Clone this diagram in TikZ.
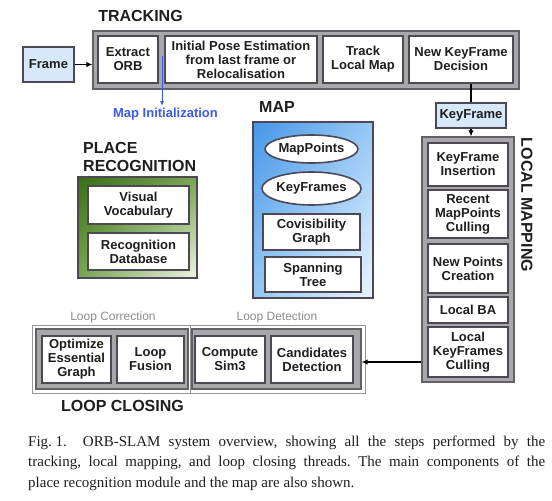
\documentclass[tikz,border=0pt]{standalone}
\usepackage{fontspec}
\setmainfont{Liberation Serif}
\newfontfamily\dsans{Liberation Sans}
\usetikzlibrary{arrows.meta,shapes.geometric,shadings}
\definecolor{bord}{RGB}{78,72,84}
\definecolor{framefill}{RGB}{168,168,170}
\definecolor{framebord}{RGB}{100,96,104}
\definecolor{lblue}{RGB}{214,232,250}
\definecolor{initblue}{RGB}{60,90,235}
\definecolor{thinc}{RGB}{150,150,150}
\definecolor{lblc}{RGB}{140,140,140}
\definecolor{txt}{RGB}{30,30,30}
\definecolor{mapA}{RGB}{70,150,232}
\definecolor{mapB}{RGB}{150,200,245}
\definecolor{mapC}{RGB}{235,245,255}
\definecolor{grA}{RGB}{55,110,20}
\definecolor{grB}{RGB}{120,165,80}
\definecolor{grC}{RGB}{238,244,230}
\tikzset{
 ibox/.style={draw=bord, line width=1.6pt, fill=white, inner sep=0pt, align=center, text=txt,
   font=\dsans\bfseries\fontsize{13}{14}\selectfont},
 bluebox/.style={ibox, fill=lblue},
 ellbox/.style={ibox, ellipse},
 framebox/.style={draw=framebord, line width=1.2pt, fill=framefill, inner sep=0pt},
 thinbox/.style={draw=thinc, line width=0.7pt, inner sep=0pt},
 ttl/.style={font=\dsans\bfseries\fontsize{16}{18}\selectfont, text=txt, inner sep=0pt},
 sublbl/.style={font=\dsans\fontsize{12}{14}\selectfont, text=lblc, inner sep=0pt},
 arr/.style={-{Latex[length=6pt,width=5.5pt]}, line width=1.4pt, black},
 capline/.style={font=\frenchspacing\fontsize{15}{20}\selectfont, inner sep=0pt, anchor=base west, text=txt}
}
\begin{document}
\begin{tikzpicture}[x=1pt,y=-1pt]
\path[fill=white,use as bounding box] (0,0) rectangle (552,501);

% TRACKING
\node[ttl] (ttrk) at (140.5,16) {TRACKING};
\node[framebox, minimum width=426, minimum height=58] (trk) at (306,60) {};
\node[ibox, minimum width=60, minimum height=47] (eorb) at (128,59.5) {Extract\\ORB};
\node[ibox, minimum width=152, minimum height=47] (ipe) at (241,59.5) {Initial Pose Estimation\\from last frame or\\Relocalisation};
\node[ibox, minimum width=80, minimum height=47] (tlm) at (363,59.5) {Track\\Local Map};
\node[ibox, minimum width=104, minimum height=47] (nkd) at (461,59.5) {New KeyFrame\\Decision};
\node[bluebox, minimum width=51, minimum height=35] (frm) at (48.5,64.5) {Frame};
\draw[arr] (frm.east) -- (trk.west |- frm.east);

% Map initialization
\coordinate (mistart) at (162,56);
\node[font=\dsans\bfseries\fontsize{13}{14}\selectfont, text=initblue, inner sep=0pt] (mi) at (165.5,114.5) {Map Initialization};
\draw[-{Latex[length=5pt,width=4pt]}, line width=0.8pt, initblue] (mistart) -- (mistart |- 0,106);

% KeyFrame
\node[bluebox, minimum width=70, minimum height=25] (kf) at (471,115.5) {KeyFrame};
\draw[line width=1.4pt] (kf.north |- nkd.south) -- (kf.north);

% LOCAL MAPPING
\node[framebox, minimum width=92, minimum height=245] (lm) at (468,259.5) {};
\draw[arr] (kf.south) -- (kf.south |- lm.north);
\node[ibox, minimum width=80, minimum height=43] (kfi) at (468,164.5) {KeyFrame\\Insertion};
\node[ibox, minimum width=80, minimum height=48] (rmc) at (468,214) {Recent\\MapPoints\\Culling};
\node[ibox, minimum width=80, minimum height=49] (npc) at (468,268.5) {New Points\\Creation};
\node[ibox, minimum width=80, minimum height=26] (lba) at (468,310) {Local BA};
\node[ibox, minimum width=80, minimum height=50] (lkc) at (468,352) {Local\\KeyFrames\\Culling};
\node[ttl, rotate=-90] (tlmap) at (527,205) {LOCAL MAPPING};

% PLACE RECOGNITION
\node[ttl, align=left, anchor=west] (tpr) at (83,157) {PLACE\\RECOGNITION};
\node[draw=bord, line width=1.2pt, inner sep=0pt, minimum width=119, minimum height=101,
  upper left=grA, lower left=grB, upper right=grB, lower right=grC] (pr) at (137.5,227.5) {};
\node[ibox, minimum width=101, minimum height=38] (vv) at (138.5,205) {Visual\\Vocabulary};
\node[ibox, minimum width=101, minimum height=37] (rdb) at (138.5,251.5) {Recognition\\Database};

% MAP
\node[ttl, anchor=west] (tmap) at (259,107) {MAP};
\node[draw=bord, line width=1.2pt, inner sep=0pt, minimum width=120, minimum height=176,
  upper left=mapA, lower left=mapB, upper right=mapB, lower right=mapC] (map) at (313,210) {};
\node[ellbox, minimum width=91, minimum height=28] (mp) at (311.5,149) {MapPoints};
\node[ellbox, minimum width=91, minimum height=33] (kfs) at (311.5,188.5) {KeyFrames};
\node[ibox, minimum width=97, minimum height=36] (cg) at (311.5,232) {Covisibility\\Graph};
\node[ibox, minimum width=96, minimum height=35] (st) at (313,274.5) {Spanning\\Tree};

% LOOP CLOSING
\node[sublbl] (llc) at (113,317) {Loop Correction};
\node[sublbl] (lld) at (277,317) {Loop Detection};
\node[thinbox, minimum width=158, minimum height=68] (lct) at (111,359) {};
\node[thinbox, minimum width=175, minimum height=68] (ldt) at (277.5,359) {};
\node[framebox, minimum width=152, minimum height=60] (lcf) at (112,359) {};
\node[framebox, minimum width=169, minimum height=60] (ldf) at (276.5,359) {};
\node[ibox, minimum width=69, minimum height=47] (oeg) at (76.5,359.5) {Optimize\\Essential\\Graph};
\node[ibox, minimum width=67, minimum height=47] (lf) at (150.5,359.5) {Loop\\Fusion};
\node[ibox, minimum width=70, minimum height=47] (cs) at (230,359.5) {Compute\\Sim3};
\node[ibox, minimum width=82, minimum height=47] (cd) at (312,359.5) {Candidates\\Detection};
\node[ttl] (tlc) at (122.5,406) {LOOP CLOSING};
\coordinate (lcy) at (0,362);
\draw[arr] (lm.west |- lcy) -- (ldf.east |- lcy);

% Caption
\node[capline] (cap1) at (28,446) {\makebox[517pt][s]{\mbox{Fig. 1.}\hspace{16pt}ORB-SLAM system overview, showing all the steps performed by the}};
\node[capline] (cap2) at (28,466.5) {\makebox[517pt][s]{tracking, local mapping, and loop closing threads. The main components of the}};
\node[capline] (cap3) at (28,487) {place recognition module and the map are also shown.};
\end{tikzpicture}
\end{document}
